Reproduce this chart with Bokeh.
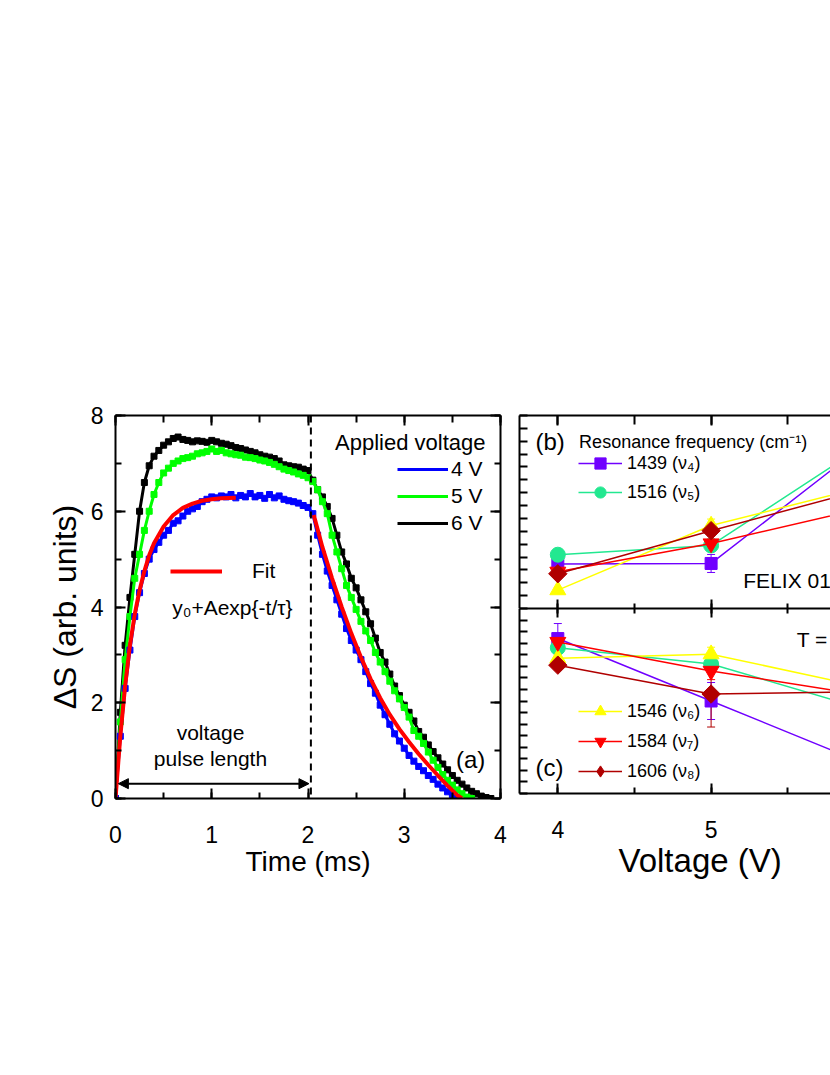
from bokeh.plotting import figure
from bokeh.models import (Range1d, LinearAxis, Span, Label, Legend, LegendItem, Arrow,
                          NormalHead, Whisker, TeeHead, ColumnDataSource, Title,
                          SingleIntervalTicker, CustomLabelingPolicy)
from bokeh.layouts import row, column
from bokeh.embed import file_html
from bokeh.resources import INLINE

FONT = "Liberation Sans"

# ---------------- panel (a) data ----------------
time_ms = [0.00, 0.05, 0.10, 0.15, 0.20, 0.25, 0.30, 0.35, 0.40, 0.45,
           0.50, 0.55, 0.60, 0.65, 0.70, 0.75, 0.80, 0.85, 0.90, 0.95,
           1.00, 1.05, 1.10, 1.15, 1.20, 1.25, 1.30, 1.35, 1.40, 1.45,
           1.50, 1.55, 1.60, 1.65, 1.70, 1.75, 1.80, 1.85, 1.90, 1.95,
           2.00, 2.05, 2.10, 2.15, 2.20, 2.25, 2.30, 2.35, 2.40, 2.45,
           2.50, 2.55, 2.60, 2.65, 2.70, 2.75, 2.80, 2.85, 2.90, 2.95,
           3.00, 3.05, 3.10, 3.15, 3.20, 3.25, 3.30, 3.35, 3.40, 3.45,
           3.50, 3.55, 3.60, 3.65, 3.70, 3.75, 3.80, 3.85, 3.90]

ds_4v = [0.0, 1.3, 2.3, 3.1, 3.8, 4.3, 4.7, 5.0, 5.2, 5.35,
         5.5, 5.6, 5.75, 5.8, 5.9, 6.0, 6.05, 6.1, 6.2, 6.25,
         6.3, 6.28, 6.32, 6.3, 6.35, 6.28, 6.33, 6.3, 6.37, 6.3,
         6.33, 6.27, 6.35, 6.28, 6.32, 6.25, 6.22, 6.2, 6.17, 6.12,
         6.08, 5.95, 5.5, 5.1, 4.75, 4.45, 4.15, 3.85, 3.55, 3.3,
         3.1, 2.9, 2.65, 2.4, 2.2, 1.95, 1.75, 1.55, 1.35, 1.2,
         1.05, 0.9, 0.78, 0.67, 0.58, 0.48, 0.4, 0.3, 0.22, 0.14,
         0.06, 0.0]

ds_5v = [0.0, 1.6, 2.9, 3.8, 4.6, 5.1, 5.6, 6.0, 6.35, 6.6,
         6.8, 6.9, 7.0, 7.05, 7.1, 7.12, 7.15, 7.2, 7.22, 7.25,
         7.3, 7.25, 7.27, 7.22, 7.2, 7.18, 7.17, 7.13, 7.12, 7.1,
         7.07, 7.05, 7.02, 6.98, 6.93, 6.88, 6.85, 6.82, 6.78, 6.75,
         6.7, 6.62, 6.45, 6.2, 5.95, 5.5, 5.15, 4.8, 4.45, 4.2,
         3.95, 3.7, 3.5, 3.3, 3.05, 2.85, 2.65, 2.45, 2.25, 2.08,
         1.9, 1.7, 1.42, 1.3, 1.15, 0.97, 0.8, 0.65, 0.5, 0.38,
         0.28, 0.18, 0.1, 0.03, 0.0]

ds_6v = [0.0, 1.8, 3.2, 4.2, 5.1, 6.0, 6.6, 6.95, 7.15, 7.27,
         7.38, 7.45, 7.52, 7.55, 7.5, 7.48, 7.45, 7.47, 7.46, 7.44,
         7.48, 7.45, 7.42, 7.4, 7.37, 7.33, 7.31, 7.28, 7.25, 7.22,
         7.18, 7.15, 7.13, 7.1, 7.05, 6.97, 6.95, 6.93, 6.92, 6.88,
         6.85, 6.65, 6.45, 6.3, 6.1, 5.85, 5.5, 5.15, 4.9, 4.6,
         4.4, 4.15, 3.9, 3.65, 3.35, 3.05, 2.85, 2.6, 2.35, 2.15,
         1.95, 1.8, 1.62, 1.4, 1.28, 1.12, 0.98, 0.85, 0.72, 0.6,
         0.48, 0.38, 0.3, 0.22, 0.15, 0.1, 0.05, 0.02, 0.0]

fit_rise_t = [0.0, 0.05, 0.1, 0.15, 0.2, 0.25, 0.3, 0.35, 0.4, 0.5,
              0.6, 0.7, 0.8, 0.9, 1.0, 1.1, 1.25]
fit_rise = [0.0, 1.3, 2.35, 3.2, 3.85, 4.35, 4.75, 5.08, 5.33, 5.68,
            5.92, 6.07, 6.16, 6.22, 6.25, 6.27, 6.28]
fit_decay_t = [2.06, 2.15, 2.25, 2.35, 2.45, 2.55, 2.65, 2.75, 2.85, 2.95,
               3.05, 3.15, 3.25, 3.35, 3.45, 3.55, 3.6]
fit_decay = [5.92, 5.25, 4.6, 4.0, 3.45, 2.95, 2.5, 2.1, 1.75, 1.45,
             1.18, 0.93, 0.7, 0.48, 0.27, 0.07, 0.0]

pulse_end_ms = 2.03

# ---------------- panels (b), (c) data ----------------
voltage = [4, 5, 6]
freq_labels = ["1439 (\u03bd\u2084)", "1516 (\u03bd\u2085)", "1546 (\u03bd\u2086)",
               "1584 (\u03bd\u2087)", "1606 (\u03bd\u2088)"]
colors = ["#7000FF", "#22E890", "#FFFF00", "#FF0000", "#B00000"]
markers = ["square", "circle", "triangle", "inverted_triangle", "square"]
marker_sizes = [12, 15, 16, 16, 13]

b_1439 = [3.46, 3.5, 12.75]
b_1516 = [4.18, 4.9, 12.7]
b_1546 = [1.43, 6.45, 9.45]
b_1584 = [2.85, 5.05, 7.8]
b_1606 = [2.7, 6.05, 9.25]
b_err = [[0.2, 0.7, 0.0], [0.3, 0.3, 0.0], [0.2, 0.5, 0.0], [0.2, 0.3, 0.0], [0.2, 0.4, 0.0]]

c_1439 = [13.4, 8.0, 2.6]
c_1516 = [12.6, 11.2, 7.3]
c_1546 = [11.7, 12.05, 9.2]
c_1584 = [13.1, 10.6, 8.5]
c_1606 = [11.1, 8.6, 8.8]
c_err = [[1.3, 1.6, 0.0], [0.4, 0.5, 0.0], [0.3, 0.6, 0.0], [0.5, 0.75, 0.0], [0.4, 2.85, 0.0]]

b_series = [b_1439, b_1516, b_1546, b_1584, b_1606]
c_series = [c_1439, c_1516, c_1546, c_1584, c_1606]


def style_axis(ax, major_in, minor_in, labels=True, size="23px"):
    ax.axis_line_width = 2
    ax.axis_line_color = "black"
    ax.major_tick_line_width = 2
    ax.minor_tick_line_width = 2
    ax.major_tick_line_color = "black"
    ax.minor_tick_line_color = "black"
    ax.major_tick_in = major_in
    ax.major_tick_out = 0
    ax.minor_tick_in = minor_in
    ax.minor_tick_out = 0
    ax.major_label_text_font = FONT
    ax.major_label_text_color = "black"
    ax.axis_label_text_font = FONT
    ax.axis_label_text_color = "black"
    ax.axis_label_text_font_style = "normal"
    if labels:
        ax.major_label_text_font_size = size
    else:
        ax.major_label_text_font_size = "0px"
        ax.major_label_standoff = 0
        ax.major_label_policy = CustomLabelingPolicy(code="return []")


def txt_label(p, text, x, y, align="left", size="21px", **kw):
    p.add_layout(Label(x=x, y=y, text=text, text_align=align, text_baseline="middle",
                       text_font=FONT, text_font_size=size, text_color="black", **kw))


# ---------------- panel (a) ----------------
pa = figure(width=509, height=879, x_range=Range1d(0, 4), y_range=Range1d(0, 8),
            output_backend="svg", toolbar_location=None,
            min_border_left=115, min_border_right=9, min_border_top=415,
            min_border_bottom=80)
pa.grid.visible = False
pa.outline_line_color = None
pa.background_fill_color = "white"
pa.border_fill_color = "white"

pa.xaxis.ticker = SingleIntervalTicker(interval=1, num_minor_ticks=2)
pa.yaxis.ticker = SingleIntervalTicker(interval=2, num_minor_ticks=2)
style_axis(pa.xaxis[0], 10, 6)
style_axis(pa.yaxis[0], 10, 6)
pa.xaxis.axis_label = "Time (ms)"
pa.yaxis.axis_label = "\u0394S (arb. units)"
pa.xaxis.axis_label_text_font_size = "28px"
pa.yaxis.axis_label_text_font_size = "32px"
pa.xaxis.major_label_standoff = 27
pa.yaxis.major_label_standoff = 12
pa.xaxis.axis_label_standoff = 0
pa.yaxis.axis_label_standoff = 5

top_a = LinearAxis(ticker=SingleIntervalTicker(interval=1, num_minor_ticks=2))
right_a = LinearAxis(ticker=SingleIntervalTicker(interval=2, num_minor_ticks=2))
style_axis(top_a, 10, 7, labels=False)
style_axis(right_a, 10, 6, labels=False)
pa.add_layout(top_a, "above")
pa.add_layout(right_a, "right")

r6 = pa.line(time_ms[:len(ds_6v)], ds_6v, line_color="black", line_width=3)
pa.scatter(time_ms[:len(ds_6v)], ds_6v, marker="square", size=6, color="black")
r5 = pa.line(time_ms[:len(ds_5v)], ds_5v, line_color="#00FF00", line_width=3)
pa.scatter(time_ms[:len(ds_5v)], ds_5v, marker="square", size=6, color="#00FF00")
r4 = pa.line(time_ms[:len(ds_4v)], ds_4v, line_color="#0000FF", line_width=3)
pa.scatter(time_ms[:len(ds_4v)], ds_4v, marker="square", size=6, color="#0000FF")
rfit = pa.line(fit_rise_t, fit_rise, line_color="#FF0000", line_width=4)
pa.line(fit_decay_t, fit_decay, line_color="#FF0000", line_width=4)

pa.add_layout(Span(location=pulse_end_ms, dimension="height", line_color="black",
                   line_width=2, line_dash="7 5"))
pa.add_layout(Arrow(x_start=0.03, y_start=0.31, x_end=2.01, y_end=0.31,
                    line_width=2, line_color="black",
                    start=NormalHead(size=10, fill_color="black", line_color="black"),
                    end=NormalHead(size=10, fill_color="black", line_color="black")))

leg_a = Legend(items=[LegendItem(label="4 V", renderers=[r4]),
                      LegendItem(label="5 V", renderers=[r5]),
                      LegendItem(label="6 V", renderers=[r6])],
               location=(282, 263), padding=0, margin=0, spacing=3,
               glyph_width=51, glyph_height=24, label_height=24, label_standoff=3,
               label_text_font=FONT, label_text_font_size="21px", label_text_color="black",
               border_line_color=None, background_fill_alpha=0)
pa.add_layout(leg_a)
leg_fit = Legend(items=[LegendItem(label="Fit", renderers=[rfit])],
                 location=(55, 215), padding=0, margin=0,
                 glyph_width=52, glyph_height=24, label_height=24, label_standoff=30,
                 label_text_font=FONT, label_text_font_size="21px", label_text_color="black",
                 border_line_color=None, background_fill_alpha=0)
pa.add_layout(leg_fit)

txt_label(pa, "Applied voltage", 3.844, 7.43, "right", "22px")
txt_label(pa, "y\u2080+Aexp{-t/\u03c4}", 0.589, 4.0, "left")
txt_label(pa, "voltage", 0.987, 1.375, "center")
txt_label(pa, "pulse length", 0.987, 0.833, "center")
txt_label(pa, "(a)", 3.69, 0.81, "center", "24px")

# ---------------- panels (b) and (c) ----------------
xr = Range1d(3.75, 5.779)


def make_panel(height, yr, top, bottom):
    p = figure(width=321, height=height, x_range=xr, y_range=yr,
               output_backend="svg", toolbar_location=None,
               min_border_left=10, min_border_right=0,
               min_border_top=top, min_border_bottom=bottom)
    p.grid.visible = False
    p.outline_line_color = None
    p.background_fill_color = "white"
    p.border_fill_color = "white"
    p.yaxis.ticker = SingleIntervalTicker(interval=1, num_minor_ticks=0)
    style_axis(p.yaxis[0], 8, 0, labels=False)
    p.xaxis.ticker = SingleIntervalTicker(interval=1, num_minor_ticks=2)
    return p


pb = make_panel(608, Range1d(0, 15), 415, 0)
style_axis(pb.xaxis[0], 9, 5, labels=False)
top_b = LinearAxis(ticker=SingleIntervalTicker(interval=1, num_minor_ticks=2))
style_axis(top_b, 10, 9, labels=False)
pb.add_layout(top_b, "above")

pc = make_panel(271, Range1d(0, 16), 0, 80)
style_axis(pc.xaxis[0], 10, 6)
pc.xaxis.major_label_standoff = 27
top_c = LinearAxis(ticker=SingleIntervalTicker(interval=1, num_minor_ticks=2))
style_axis(top_c, 9, 5, labels=False)
pc.add_layout(top_c, "above")
pc.add_layout(Title(text="Voltage (V)", align="left", offset=99, standoff=0,
                    vertical_align="middle", text_font=FONT, text_font_size="33px",
                    text_font_style="normal", text_color="black"), "below")


def draw_series(p, values, errs):
    items = []
    for i, (vals, err) in enumerate(zip(values, errs)):
        col = colors[i]
        src = ColumnDataSource(dict(volt=voltage, val=vals,
                                    hi=[v + e for v, e in zip(vals, err)],
                                    lo=[v - e for v, e in zip(vals, err)]))
        p.add_layout(Whisker(source=src, base="volt", upper="hi", lower="lo",
                             line_color=col, line_width=1,
                             upper_head=TeeHead(size=8, line_color=col, line_width=1),
                             lower_head=TeeHead(size=8, line_color=col, line_width=1)))
        lr = p.line("volt", "val", source=src, line_color=col, line_width=1.5)
        ang = 0.7854 if i == 4 else 0.0
        sr = p.scatter("volt", "val", source=src, marker=markers[i], size=marker_sizes[i],
                       angle=ang, fill_color=col, line_color=col)
        if i == 4:
            # legend symbol for the diamond (legend glyphs ignore marker angle);
            # it uses the 6 V point, which lies beyond the visible part of the axis
            sr = p.scatter([voltage[2]], [vals[2]], marker="diamond", size=marker_sizes[i],
                           fill_color=col, line_color=col)
        items.append((lr, sr))
    return items


items_b = draw_series(pb, b_series, b_err)
items_c = draw_series(pc, c_series, c_err)

leg_b = Legend(items=[LegendItem(label=freq_labels[i], renderers=list(items_b[i])) for i in (0, 1)],
               location=(59, 102), padding=0, margin=0, spacing=1,
               glyph_width=44, glyph_height=28, label_height=28, label_standoff=5,
               label_text_font=FONT, label_text_font_size="18px", label_text_color="black",
               border_line_color=None, background_fill_alpha=0)
pb.add_layout(leg_b)
leg_c = Legend(items=[LegendItem(label=freq_labels[i], renderers=list(items_c[i])) for i in (2, 3, 4)],
               location=(59, 8), padding=0, margin=0, spacing=2,
               glyph_width=44, glyph_height=28, label_height=28, label_standoff=5,
               label_text_font=FONT, label_text_font_size="18px", label_text_color="black",
               border_line_color=None, background_fill_alpha=0)
pc.add_layout(leg_c)

txt_label(pb, "Resonance frequency (cm\u207b\u00b9)", 4.139, 12.97, "left", "18px")
txt_label(pb, "(b)", 3.95, 12.97, "center", "24px")
txt_label(pb, "FELIX 01", 5.21, 2.16, "left", "21px")
txt_label(pc, "T =", 5.559, 13.3, "left", "21px")
txt_label(pc, "(c)", 3.946, 2.28, "center", "24px")

layout = row(pa, column(pb, pc))
open("out.html", "w").write(file_html(layout, INLINE))
